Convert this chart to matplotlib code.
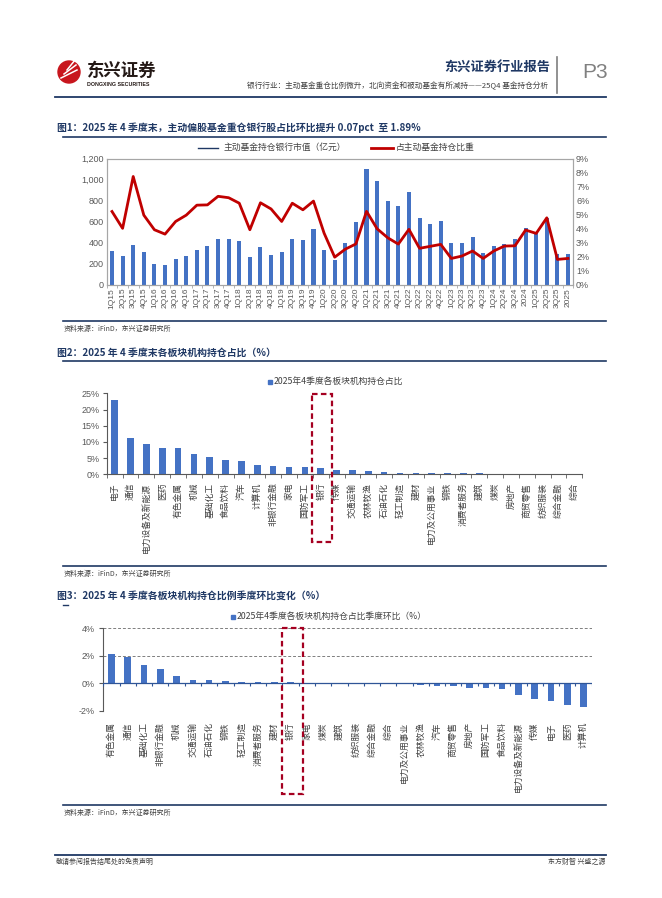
import matplotlib.pyplot as plt
from matplotlib.patches import Rectangle, Circle
from matplotlib.ticker import FuncFormatter
import numpy as np

plt.rcParams['font.family'] = ['Noto Sans CJK SC', 'DejaVu Sans']

W, H = 662, 898
NAVY = '#1F3864'
BLUE = '#4472C4'
RED = '#C00000'
GRAY = '#595959'
NUM = 'Liberation Sans'

# 图1：主动基金持仓银行市值 + 占比
quarters = ['1Q15', '2Q15', '3Q15', '4Q15', '1Q16', '2Q16', '3Q16', '4Q16',
            '1Q17', '2Q17', '3Q17', '4Q17', '1Q18', '2Q18', '3Q18', '4Q18',
            '1Q19', '2Q19', '3Q19', '4Q19', '1Q20', '2Q20', '3Q20', '4Q20',
            '1Q21', '2Q21', '3Q21', '4Q21', '1Q22', '2Q22', '3Q22', '4Q22',
            '1Q23', '2Q23', '3Q23', '4Q23', '1Q24', '2Q24', '3Q24', '2024',
            '1Q25', '2Q25', '3Q25', '2025']
bank_value = [320, 272, 380, 311, 199, 188, 246, 272, 335, 371,
              436, 440, 414, 264, 365, 280, 311, 440, 428, 530,
              330, 240, 401, 600, 1105, 988, 796, 752, 881, 632,
              578, 606, 395, 395, 458, 306, 373, 392, 439, 540,
              489, 635, 291, 294]
bank_share = [5.23, 4.03, 7.72, 4.97, 3.93, 3.62, 4.52, 4.97, 5.68, 5.70,
              6.31, 6.21, 5.82, 3.93, 5.85, 5.41, 4.52, 5.82, 5.35, 5.97,
              3.69, 1.98, 2.55, 2.92, 5.24, 4.00, 3.36, 2.91, 3.96, 2.61,
              2.75, 2.89, 1.89, 2.06, 2.42, 1.89, 2.42, 2.77, 2.79, 3.91,
              3.67, 4.78, 1.82, 1.89]

# 图2：各板块机构持仓占比（%）
sectors2 = ['电子', '通信', '电力设备及新能源', '医药', '有色金属', '机械', '基础化工',
            '食品饮料', '汽车', '计算机', '非银行金融', '家电', '国防军工', '银行',
            '传媒', '交通运输', '农林牧渔', '石油石化', '轻工制造', '建材',
            '电力及公用事业', '钢铁', '消费者服务', '建筑', '煤炭', '房地产',
            '商贸零售', '纺织服装', '综合金融', '综合']
share2 = [22.8, 11.1, 9.3, 8.0, 8.0, 6.2, 5.35, 4.3, 4.2, 2.8,
          2.5, 2.4, 2.2, 1.9, 1.35, 1.25, 1.05, 0.6, 0.5, 0.45,
          0.4, 0.4, 0.35, 0.25, 0.2, 0.1, 0.08, 0.05, 0.03, 0.02]

# 图3：持仓比例季度环比变化（%）
sectors3 = ['有色金属', '通信', '基础化工', '非银行金融', '机械', '交通运输', '石油石化',
            '钢铁', '轻工制造', '消费者服务', '建材', '银行', '家电', '煤炭', '建筑',
            '纺织服装', '综合金融', '综合', '电力及公用事业', '农林牧渔', '汽车',
            '商贸零售', '房地产', '国防军工', '食品饮料', '电力设备及新能源', '传媒',
            '电子', '医药', '计算机']
change3 = [2.13, 1.94, 1.31, 1.02, 0.51, 0.24, 0.22, 0.15, 0.14, 0.13,
           0.11, 0.07, 0.05, 0.03, 0.02, 0.01, 0.0, -0.01, -0.02, -0.12,
           -0.15, -0.15, -0.32, -0.36, -0.41, -0.87, -1.14, -1.26, -1.60, -1.72]


def box(x0, y0, x1, y1):
    return [x0 / W, 1 - y1 / H, (x1 - x0) / W, (y1 - y0) / H]


fig = plt.figure(figsize=(W / 100, H / 100), dpi=100)

# 页面底层：页眉、标题、分隔线
page = fig.add_axes([0, 0, 1, 1])
page.set_xlim(0, W)
page.set_ylim(H, 0)
page.axis('off')

page.add_patch(Circle((69, 72), 11, color='#C8161D'))
for k in range(3):
    page.plot([61 + k * 3, 77 - k * 1], [78 - k * 4, 70 - k * 5], color='white', lw=1.1)
page.text(87, 71, '东兴证券', fontsize=12.5, fontweight='bold', color='#231815', va='center')
page.text(87, 84.5, 'DONGXING SECURITIES', fontsize=3.8, fontweight='bold',
          color='#231815', va='center', family=NUM)
page.text(550, 67, '东兴证券行业报告', fontsize=9.5, fontweight='bold', color=NAVY,
          ha='right', va='center')
page.text(548, 86, '银行行业：主动基金重仓比例微升，北向资金和被动基金有所减持——25Q4 基金持仓分析',
          fontsize=5.5, color='#404040', ha='right', va='center')
page.plot([557, 557], [57, 93], color='#7F7F7F', lw=1.2)
page.text(582, 72, 'P3', fontsize=15, color='#808080', va='center', family=NUM)
page.plot([55, 606], [97, 97], color=NAVY, lw=1.3)

titles = [(128, '图1：2025 年 4 季度末，主动偏股基金重仓银行股占比环比提升 0.07pct  至 1.89%'),
          (353, '图2：2025 年 4 季度末各板块机构持仓占比（%）'),
          (596, '图3：2025 年 4 季度各板块机构持仓比例季度环比变化（%）')]
for y, t in titles:
    page.text(57, y, t, fontsize=7.1, fontweight='bold', color=NAVY, va='center')
page.plot([63, 606], [137, 137], color=NAVY, lw=1.2)
page.plot([63, 606], [361, 361], color=NAVY, lw=1.2)
page.plot([63, 68], [605, 605], color=NAVY, lw=1.0)

for y in [321, 566, 805]:
    page.plot([63, 606], [y, y], color=NAVY, lw=1.2)
    page.text(64, y + 8, '资料来源：iFinD，东兴证券研究所', fontsize=5, color='#404040',
              va='center', style='italic')

page.plot([55, 606], [855, 855], color=NAVY, lw=1.3)
page.text(56, 862, '敬请参阅报告结尾处的免责声明', fontsize=5, color='#404040', va='center')
page.text(606, 862, '东方财智 兴盛之源', fontsize=5, color='#404040', va='center', ha='right')

# 图例
page.plot([198, 218], [147.5, 147.5], color=NAVY, lw=1.0)
page.text(224, 147.5, '主动基金持仓银行市值（亿元）', fontsize=6.3, color='#404040', va='center')
page.plot([371, 393], [147.5, 147.5], color=RED, lw=2.0)
page.text(396, 147.5, '占主动基金持仓比重', fontsize=6.3, color='#404040', va='center')

page.add_patch(Rectangle((267.5, 379.5), 4, 4.5, color=BLUE))
page.text(273.5, 381.7, '2025年4季度各板块机构持仓占比', fontsize=6.3, color='#404040', va='center')
page.add_patch(Rectangle((231, 614.5), 4, 4.5, color=BLUE))
page.text(237, 616.7, '2025年4季度各板块机构持仓占比季度环比（%）', fontsize=6.3,
          color='#404040', va='center')


def style_spines(ax):
    for s in ax.spines.values():
        s.set_color('#A6A6A6')
        s.set_linewidth(0.8)


# ---- 图1 ----
ax1 = fig.add_axes(box(106.7, 158.5, 573.3, 285))
x1 = np.arange(len(quarters))
ax1.bar(x1, bank_value, width=0.38, color=BLUE, zorder=2)
ax1.set_xlim(-0.375, len(quarters) - 0.625)
ax1.set_ylim(0, 1200)
ax1.set_yticks(range(0, 1201, 200))
ax1.yaxis.set_major_formatter(FuncFormatter(lambda v, p: f'{v:,.0f}'))
ax1.set_xticks(x1)
ax1.set_xticklabels(quarters, rotation=90, fontsize=6, color=GRAY, family=NUM)
ax1.tick_params(axis='x', length=0, pad=2)
ax1.tick_params(axis='y', length=0, pad=2, labelsize=6.5, labelcolor=GRAY)
for lab in ax1.get_yticklabels():
    lab.set_family(NUM)
ax1.set_xticks(np.arange(-0.5, len(quarters), 1), minor=True)
ax1.tick_params(axis='x', which='minor', length=2, color='#A6A6A6')
style_spines(ax1)
ax1.patch.set_alpha(0)

ax2 = ax1.twinx()
ax2.plot(x1, bank_share, color=RED, lw=2.0, zorder=3)
ax2.set_ylim(0, 9)
ax2.set_yticks(range(0, 10))
ax2.yaxis.set_major_formatter(FuncFormatter(lambda v, p: f'{v:.0f}%'))
ax2.tick_params(axis='y', length=0, pad=2, labelsize=6.5, labelcolor=GRAY)
for lab in ax2.get_yticklabels():
    lab.set_family(NUM)
style_spines(ax2)

# ---- 图2 ----
ax3 = fig.add_axes(box(106.7, 393.3, 582.3, 474.3))
xs2 = np.arange(len(sectors2))
ax3.bar(xs2, share2, width=0.42, color=BLUE, zorder=2)
ax3.set_xlim(-0.5, len(sectors2) - 0.5)
ax3.set_ylim(0, 25)
ax3.set_yticks(range(0, 26, 5))
ax3.yaxis.set_major_formatter(FuncFormatter(lambda v, p: f'{v:.0f}%'))
ax3.set_xticks(xs2)
ax3.set_xticklabels(sectors2, rotation=90, fontsize=6.3, color='#404040')
ax3.set_xticks(np.arange(-0.5, len(sectors2), 1), minor=True)
ax3.tick_params(axis='x', which='major', length=0, pad=6)
ax3.tick_params(axis='x', which='minor', length=3, color=GRAY)
ax3.tick_params(axis='y', length=3, color=GRAY, pad=2, labelsize=6.5, labelcolor=GRAY)
for lab in ax3.get_yticklabels():
    lab.set_family(NUM)
for s in ['top', 'right']:
    ax3.spines[s].set_visible(False)
ax3.spines['left'].set_color(GRAY)
ax3.spines['bottom'].set_color(GRAY)
ax3.patch.set_alpha(0)

# ---- 图3 ----
ax4 = fig.add_axes(box(103.3, 628.3, 591.7, 711))
xs3 = np.arange(len(sectors3))
ax4.bar(xs3, change3, width=0.41, color=BLUE, zorder=2)
ax4.set_xlim(-0.5, len(sectors3) - 0.5)
ax4.set_ylim(-2, 4)
ax4.set_yticks([-2, 0, 2, 4])
ax4.yaxis.set_major_formatter(FuncFormatter(lambda v, p: f'{v:.0f}%'))
for g in [4, 2, -2]:
    ax4.axhline(g, color='#7F7F7F', lw=0.7, ls=(0, (3, 2)), zorder=1)
ax4.axhline(0, color='#2F5597', lw=0.9, zorder=3)
ax4.vlines(np.arange(-0.5, len(sectors3), 1), -0.2, 0, color='#2F5597', lw=0.8, zorder=3)
ax4.set_xticks(xs3)
ax4.set_xticklabels(sectors3, rotation=90, fontsize=6.3, color='#404040')
ax4.tick_params(axis='x', length=0, pad=8)
ax4.tick_params(axis='y', length=3, color=GRAY, pad=3, labelsize=6.5, labelcolor=GRAY)
for lab in ax4.get_yticklabels():
    lab.set_family(NUM)
for s in ['top', 'right', 'bottom']:
    ax4.spines[s].set_visible(False)
ax4.spines['left'].set_color(GRAY)
ax4.patch.set_alpha(0)

# 顶层：银行虚线框
top = fig.add_axes([0, 0, 1, 1])
top.set_xlim(0, W)
top.set_ylim(H, 0)
top.axis('off')
top.patch.set_alpha(0)
for (bx0, by0, bx1, by1) in [(311.7, 394.3, 332.3, 542.3), (281.7, 627.7, 302.7, 794.3)]:
    top.add_patch(Rectangle((bx0, by0), bx1 - bx0, by1 - by0, fill=False,
                            edgecolor='#A50021', lw=1.6, ls=(0, (2.5, 1.5))))

fig.savefig('out.png', dpi=100)
